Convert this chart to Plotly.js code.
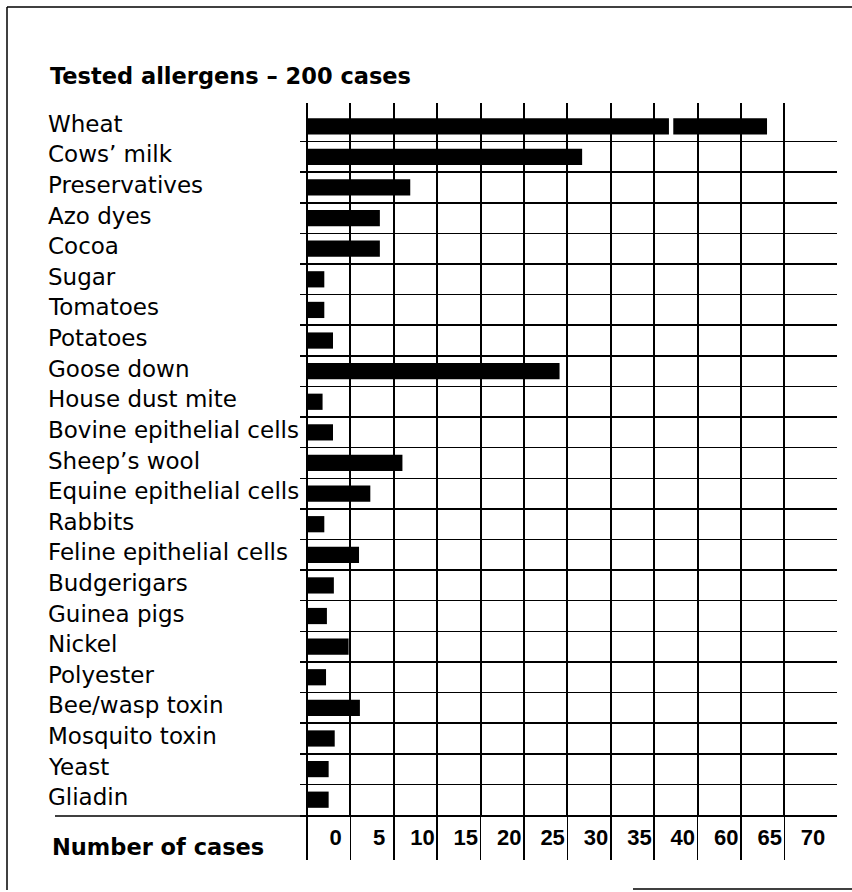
<!DOCTYPE html>
<html>
<head>
<meta charset="utf-8">
<script src="https://cdn.plot.ly/plotly-3.0.1.min.js"></script>
<style>html,body{margin:0;padding:0;background:#fff;}#chart{width:852px;height:892px;}</style>
</head>
<body>
<div id="chart"></div>
<script>
// ---- data ----
const categories = ["Wheat", "Cows’ milk", "Preservatives", "Azo dyes", "Cocoa", "Sugar",
  "Tomatoes", "Potatoes", "Goose down", "House dust mite", "Bovine epithelial cells",
  "Sheep’s wool", "Equine epithelial cells", "Rabbits", "Feline epithelial cells",
  "Budgerigars", "Guinea pigs", "Nickel", "Polyester", "Bee/wasp toxin",
  "Mosquito toxin", "Yeast", "Gliadin"];
const cases = [53.0, 31.7, 11.9, 8.4, 8.4, 2.0, 2.0, 3.0, 29.1, 1.8, 3.0, 11.0, 7.3,
  2.0, 6.0, 3.1, 2.3, 4.8, 2.2, 6.1, 3.2, 2.5, 2.5];
const wheatBreak = [41.7, 42.2];          // gap drawn in the Wheat bar (axis break)
const tickLabels = ["0", "5", "10", "15", "20", "25", "30", "35", "40", "60", "65", "70"];
const titleText = "Tested allergens – 200 cases";
const axisTitle = "Number of cases";

// ---- layout geometry ----
const W = 852, H = 892;
const L = 300, R = 15, T = 103, B = 77;
const pw = W - L - R, ph = H - T - B;
const px2x = p => (p - L) / pw;
const py2y = p => (H - B - p) / ph;

const idx = categories.map((_, i) => i);
const cellStep = 5;
const gridVals = tickLabels.map((_, i) => i * cellStep);
const labelVals = tickLabels.map((_, i) => i * cellStep + 3.3);
const boundaries = categories.slice(0, -1).map((_, i) => i + 0.5);

// first bar series: all values, wheat cut at the break
const firstX = cases.map((v, i) => i === 0 ? wheatBreak[0] : v);
const traces = [
  {type: "bar", orientation: "h", y: idx, x: firstX, width: 0.53,
   marker: {color: "#000", line: {width: 0}}, hoverinfo: "skip"},
  {type: "bar", orientation: "h", y: [0], base: [wheatBreak[1]],
   x: [cases[0] - wheatBreak[1]], width: 0.53,
   marker: {color: "#000", line: {width: 0}}, hoverinfo: "skip"}
];

const annotations = categories.map((c, i) => ({
  text: c, xref: "paper", yref: "y", x: px2x(46), y: i - 0.08,
  xanchor: "left", yanchor: "middle", showarrow: false,
  font: {family: "DejaVu Sans", size: 23, color: "#000"}
}));
annotations.push({
  text: axisTitle, xref: "paper", yref: "paper", x: px2x(50), y: py2y(847),
  xanchor: "left", yanchor: "middle", showarrow: false,
  font: {family: "DejaVu Sans", size: 22.5, color: "#000", weight: "bold"}
});

const line = (x0, y0, x1, y1, w) => ({type: "line", xref: "paper", yref: "paper",
  x0: px2x(x0), y0: py2y(y0), x1: px2x(x1), y1: py2y(y1),
  line: {color: "#000", width: w}});

const layout = {
  width: W, height: H,
  margin: {l: L, r: R, t: T, b: B, pad: 0},
  paper_bgcolor: "#fff", plot_bgcolor: "#fff",
  showlegend: false, barmode: "overlay",
  title: {text: titleText, xref: "container", yref: "container",
    x: 50 / W, xanchor: "left", y: 1 - 76 / H, yanchor: "middle",
    font: {family: "DejaVu Sans", size: 22.5, color: "#000", weight: "bold"}},
  xaxis: {range: [-0.8, 61.06], fixedrange: true,
    tickmode: "array", tickvals: labelVals, ticktext: tickLabels,
    ticks: "outside", ticklen: 8, tickcolor: "rgba(0,0,0,0)",
    ticklabelstandoff: -6,
    showgrid: false, zeroline: false,
    showline: true, linecolor: "#000", linewidth: 1.5,
    tickfont: {family: "Liberation Sans", size: 22, color: "#000", weight: "bold"},
    minor: {tickmode: "array", tickvals: gridVals, showgrid: true,
      gridcolor: "#000", gridwidth: 2, ticks: "outside", ticklen: 43,
      tickwidth: 1.5, tickcolor: "#000"}},
  yaxis: {range: [categories.length - 0.5, -0.76], fixedrange: true,
    tickmode: "array", tickvals: boundaries, showticklabels: false,
    ticks: "", showgrid: true, gridcolor: "#000", gridwidth: 1.5,
    zeroline: false, showline: false},
  annotations: annotations,
  shapes: [
    line(7, 7, 7, 890, 1.5),
    line(7, 7, 852, 7, 1.5),
    line(633, 889, 852, 889, 1.5),
    line(55, 816, 300, 816, 1.5)
  ]
};

Plotly.newPlot("chart", traces, layout, {displayModeBar: false, staticPlot: true});
</script>
</body>
</html>
